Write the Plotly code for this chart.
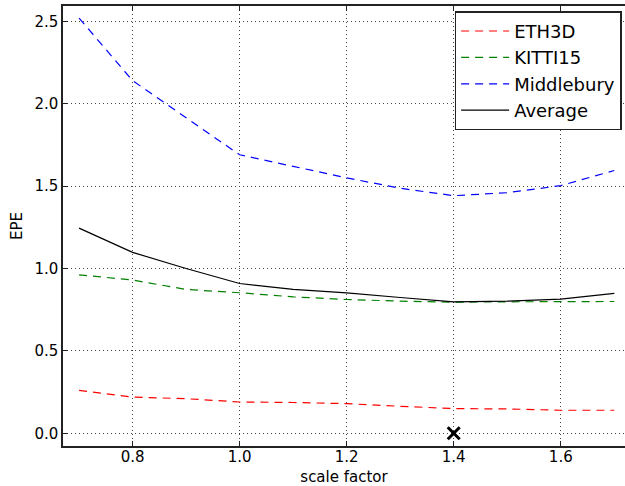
import plotly.graph_objects as go

scale = [0.7, 0.8, 0.9, 1.0, 1.1, 1.2, 1.3, 1.4, 1.5, 1.6, 1.7]
eth3d = [0.26, 0.22, 0.21, 0.19, 0.187, 0.18, 0.164, 0.15, 0.148, 0.14, 0.14]
kitti15 = [0.962, 0.93, 0.873, 0.853, 0.828, 0.812, 0.802, 0.796, 0.798, 0.80, 0.80]
middlebury = [2.52, 2.14, 1.915, 1.69, 1.62, 1.55, 1.487, 1.442, 1.46, 1.503, 1.595]
average = [1.245, 1.098, 1.0, 0.909, 0.873, 0.852, 0.824, 0.798, 0.802, 0.814, 0.849]
best_x = [1.4]
best_y = [0.0]
xticks = [0.8, 1.0, 1.2, 1.4, 1.6]
yticks = [0.0, 0.5, 1.0, 1.5, 2.0, 2.5]

font = "DejaVu Sans"
dash = "8px,6px"

fig = go.Figure()
series = [
    ("ETH3D", eth3d, "#FF0000", dash),
    ("KITTI15", kitti15, "#008000", dash),
    ("Middlebury", middlebury, "#0000FF", dash),
    ("Average", average, "#000000", "solid"),
]
for name, vals, col, d in series:
    fig.add_trace(go.Scatter(
        x=scale, y=vals, mode="lines", name=name,
        line=dict(color=col, width=1.2, dash=d),
    ))
fig.add_trace(go.Scatter(
    x=best_x, y=best_y, mode="markers", showlegend=False,
    marker=dict(symbol="x-thin", size=12, line=dict(width=3, color="black"), color="black"),
    cliponaxis=False,
))

axis_common = dict(
    showline=True, linecolor="#222", linewidth=1.5,
    ticks="inside", ticklen=5, tickcolor="#222", tickwidth=1,
    showgrid=True, gridcolor="#444", gridwidth=1, griddash="1px,3px",
    zeroline=False, automargin=False,
    tickfont=dict(family=font, size=15, color="black"),
)

fig.update_layout(
    width=625, height=486,
    margin=dict(l=63, r=0, t=6, b=40),
    plot_bgcolor="white", paper_bgcolor="white",
    font=dict(family=font, color="black"),
    xaxis=dict(range=[0.67, 1.72], tickvals=xticks, ticktext=["0.8", "1.0", "1.2", "1.4", "1.6"],
               mirror="ticks", ticklabelstandoff=-4,
               title=dict(text="scale factor", font=dict(family=font, size=15), standoff=13),
               **axis_common),
    yaxis=dict(range=[-0.077, 2.593], tickvals=yticks,
               ticktext=["0.0", "0.5", "1.0", "1.5", "2.0", "2.5"],
               title=dict(text="EPE", font=dict(family=font, size=15), standoff=8),
               **axis_common),
    legend=dict(
        x=0.994, y=0.988, xanchor="right", yanchor="top",
        bgcolor="white", bordercolor="#222", borderwidth=1.5,
        font=dict(family=font, size=18, color="black"),
        itemwidth=48,
    ),
    showlegend=True,
)

fig.write_html(
    "out.html",
    config={"displayModeBar": False},
    post_script="document.body.style.margin='0';document.body.style.overflow='hidden';",
)
